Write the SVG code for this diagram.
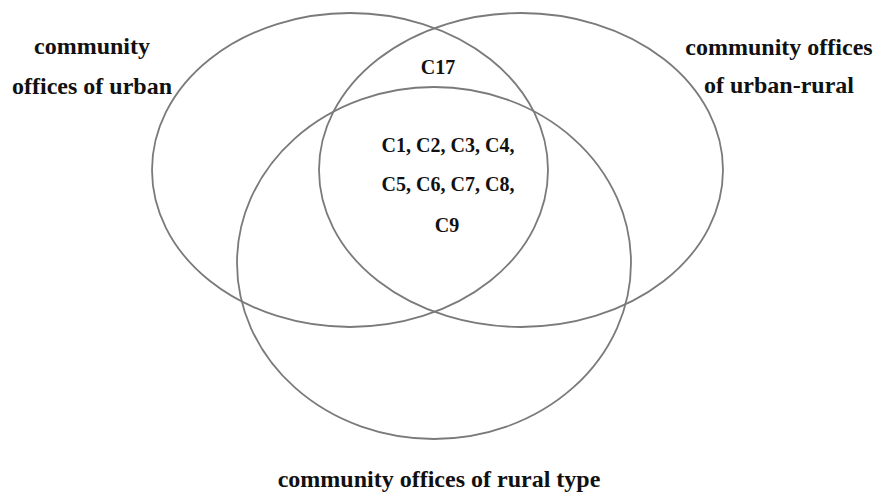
<svg xmlns="http://www.w3.org/2000/svg" width="876" height="493" viewBox="0 0 876 493">
<style>
.set{fill:none;stroke:#7a7a7a;stroke-width:1.8}
.lbl{font-family:"Liberation Serif","Times New Roman",serif;font-weight:bold;font-size:24px;fill:#111;text-anchor:middle}
.item{font-family:"Liberation Serif","Times New Roman",serif;font-weight:bold;font-size:20px;fill:#111;text-anchor:middle}
</style>
<rect width="876" height="493" fill="#fff"/>
<g id="set-urban">
<ellipse class="set" cx="350" cy="170" rx="198" ry="157"/>
<text class="lbl" x="92" y="54">community</text>
<text class="lbl" x="92" y="94">offices of urban</text>
</g>
<g id="set-urban-rural">
<ellipse class="set" cx="521" cy="170" rx="202" ry="157"/>
<text class="lbl" x="779" y="55">community offices</text>
<text class="lbl" x="779" y="93">of urban-rural</text>
</g>
<g id="set-rural">
<ellipse class="set" cx="434" cy="263" rx="197" ry="176"/>
<text class="lbl" x="439" y="487">community offices of rural type</text>
</g>
<g id="c17">
<text class="item" x="438" y="74">C17</text>
</g>
<g id="core">
<text class="item" x="448" y="152">C1, C2, C3, C4,</text>
<text class="item" x="448" y="191">C5, C6, C7, C8,</text>
<text class="item" x="447" y="232">C9</text>
</g>
<g id="connectors"></g>
</svg>
